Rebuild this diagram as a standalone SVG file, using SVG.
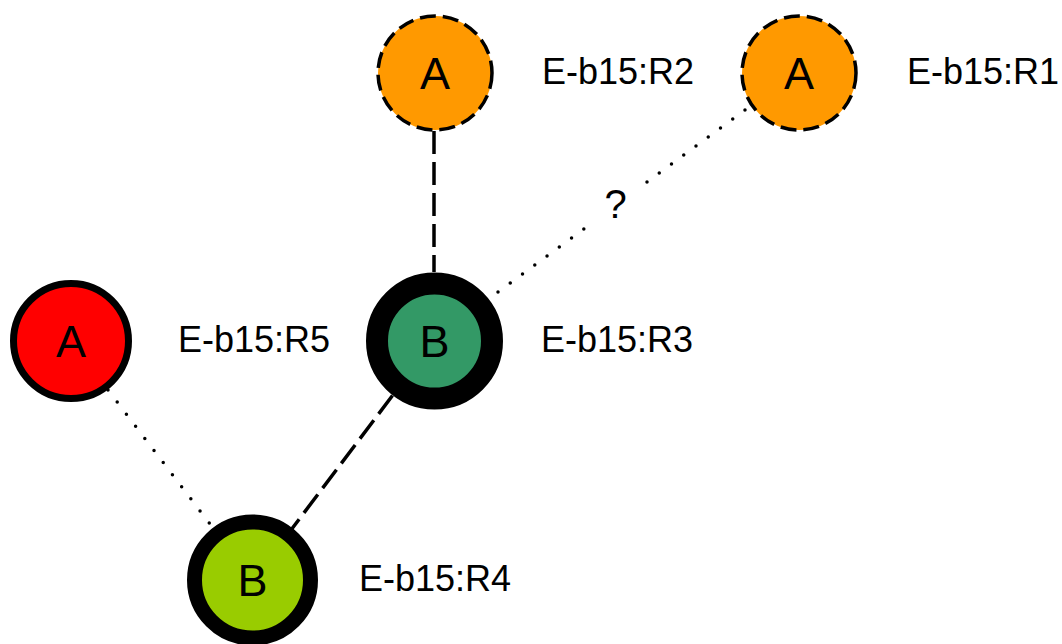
<svg xmlns="http://www.w3.org/2000/svg" width="1062" height="644" viewBox="0 0 1062 644">
<style>
.lbl{font-family:"Liberation Sans",Arial,sans-serif;font-size:36px;fill:#000}
.q{font-family:"Liberation Sans",Arial,sans-serif;font-size:40px;fill:#000;text-anchor:middle}
.nt{font-family:"Liberation Sans",Arial,sans-serif;font-size:45px;fill:#000;text-anchor:middle}
.dash{stroke:#000;stroke-width:3.5;fill:none;stroke-dasharray:23 8}
.dot{stroke:#000;stroke-width:3.5;fill:none;stroke-dasharray:0 15.2;stroke-linecap:round}
.dn{stroke:#000;stroke-width:3.5;stroke-dasharray:16 7}
</style>
<rect width="1062" height="644" fill="#fff"/>
<g id="connectors">
<line class="dash" x1="434" y1="131" x2="434" y2="272"/>
<line class="dot" x1="498" y1="292" x2="586" y2="227.5"/>
<line class="dot" x1="647" y1="182" x2="747" y2="108.5"/>
<line class="dash" x1="392.5" y1="395.5" x2="291" y2="530"/>
<line class="dot" x1="108" y1="390" x2="213" y2="528"/>
<text class="q" x="615.5" y="218">?</text>
</g>
<g id="R2">
<circle class="dn" cx="435" cy="73" r="57" fill="#FF9900"/>
<text class="nt" x="435" y="89">A</text>
<text class="lbl" x="542" y="84">E-b15:R2</text>
</g>
<g id="R1">
<circle class="dn" cx="799" cy="73" r="57" fill="#FF9900"/>
<text class="nt" x="799" y="89">A</text>
<text class="lbl" x="907" y="84">E-b15:R1</text>
</g>
<g id="R3">
<circle cx="434.5" cy="341" r="57.5" fill="#339966" stroke="#000" stroke-width="22"/>
<text class="nt" x="434.5" y="357">B</text>
<text class="lbl" x="541" y="352">E-b15:R3</text>
</g>
<g id="R5">
<circle cx="71" cy="341" r="57.5" fill="#FF0000" stroke="#000" stroke-width="7"/>
<text class="nt" x="71" y="357">A</text>
<text class="lbl" x="178" y="352">E-b15:R5</text>
</g>
<g id="R4">
<circle cx="252.5" cy="580" r="58" fill="#99CC00" stroke="#000" stroke-width="15"/>
<text class="nt" x="252.5" y="596">B</text>
<text class="lbl" x="359" y="591">E-b15:R4</text>
</g>
</svg>
